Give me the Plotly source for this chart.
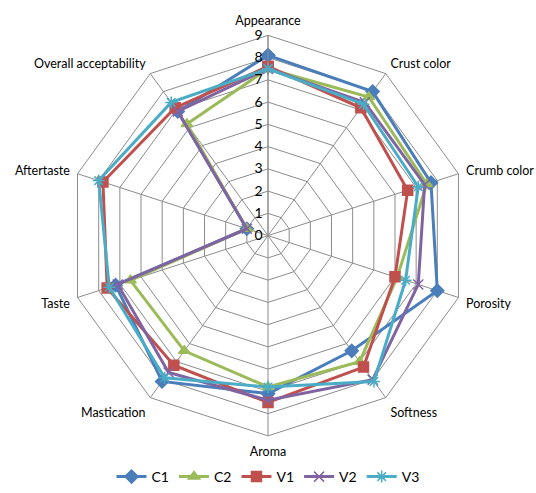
import plotly.graph_objects as go

# Sensory attributes (radar axes, clockwise from top)
categories = ["Appearance", "Crust color", "Crumb color", "Porosity", "Softness",
              "Aroma", "Mastication", "Taste", "Aftertaste", "Overall acceptability"]

# Mean panel scores for each sample
c1 = [8.1, 8.0, 7.7, 8.0, 6.4, 7.1, 8.1, 7.2, 1.0, 6.9]
c2 = [7.5, 7.7, 7.5, 6.1, 7.0, 6.8, 6.4, 6.5, 1.0, 6.2]
v1 = [7.6, 7.1, 6.6, 6.0, 7.3, 7.5, 7.2, 7.6, 7.8, 7.1]
v2 = [7.5, 7.4, 7.4, 7.1, 8.0, 7.4, 7.6, 7.1, 1.0, 6.9]
v3 = [7.5, 7.3, 7.1, 6.5, 8.1, 6.8, 7.9, 7.5, 8.0, 7.4]

radial_ticks = list(range(0, 10))

series = [
    ("C1", c1, "#4A7EBB", "diamond", 10),
    ("C2", c2, "#9BBB59", "triangle-up", 10),
    ("V1", v1, "#C0504D", "square", 10),
    ("V2", v2, "#8064A2", "x-thin-open", 10),
    ("V3", v3, "#4BACC6", "asterisk-open", 10),
]

fig = go.Figure()
for name, vals, color, symbol, size in series:
    fig.add_trace(go.Scatterpolar(
        r=vals + vals[:1],
        theta=categories + categories[:1],
        name=name,
        mode="lines+markers",
        line=dict(color=color, width=3),
        marker=dict(symbol=symbol, size=size, color=color,
                    line=dict(color=color, width=1.5)),
    ))

grid = "#8C8C8C"
fig.update_layout(
    width=536, height=493,
    margin=dict(l=0, r=0, t=0, b=0),
    paper_bgcolor="white",
    font=dict(family="Lato, Open Sans, sans-serif", size=14, color="#000000"),
    polar=dict(
        domain=dict(x=[64 / 536, 472 / 536], y=[1 - 444 / 493, 1 - 36 / 493]),
        bgcolor="white",
        gridshape="linear",
        angularaxis=dict(
            rotation=90, direction="clockwise",
            showline=True, linecolor=grid, linewidth=1,
            gridcolor=grid, gridwidth=1,
            # invisible ticks just push the category labels outward
            ticks="outside", ticklen=5, tickcolor="rgba(0,0,0,0)",
            tickfont=dict(size=12.5),
        ),
        radialaxis=dict(
            range=[0, 9], tickvals=radial_ticks, angle=90,
            side="counterclockwise", tickangle=90,
            showline=True, linecolor=grid, linewidth=1,
            gridcolor=grid, gridwidth=1,
            ticks="", tickfont=dict(size=14),
        ),
    ),
    legend=dict(
        orientation="h", x=0.5, xanchor="center", y=1 - 486 / 493, yanchor="middle",
        font=dict(size=14), itemwidth=30, traceorder="normal",
    ),
)

fig.write_html("out.html")
